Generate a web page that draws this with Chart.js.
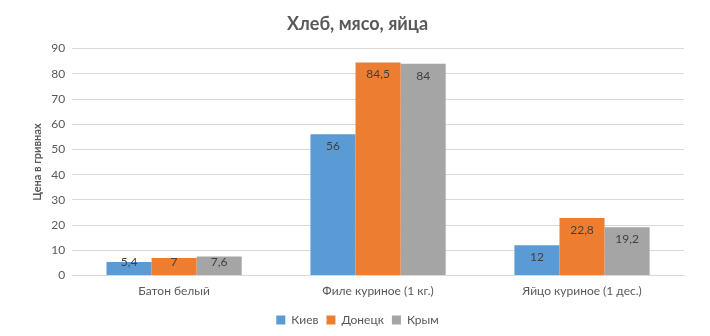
<!DOCTYPE html>
<html>
<head>
<meta charset="utf-8">
<script src="https://cdn.jsdelivr.net/npm/chart.js@4"></script>
<style>
  html, body { margin: 0; padding: 0; background: #fff; }
  #wrap { width: 710px; height: 336px; }
</style>
</head>
<body>
<div id="wrap"><canvas id="chart"></canvas></div>
<script>
var categories = ["Батон белый", "Филе куриное (1 кг.)", "Яйцо куриное (1 дес.)"];
var kiev = [5.4, 56, 12];
var donetsk = [7, 84.5, 22.8];
var crimea = [7.6, 84, 19.2];
var yTicks = [0, 10, 20, 30, 40, 50, 60, 70, 80, 90];

var FONT = "Lato, 'Open Sans', sans-serif";

// value labels just below the top of every bar (short bars keep them above the axis)
var barLabels = {
	id: 'barLabels',
	afterDatasetsDraw: function(chart) {
		var ctx = chart.ctx;
		ctx.save();
		ctx.font = "12px " + FONT;
		ctx.fillStyle = "#404040";
		ctx.textAlign = "center";
		ctx.textBaseline = "top";
		chart.data.datasets.forEach(function(ds, i) {
			chart.getDatasetMeta(i).data.forEach(function(bar, j) {
				var txt = String(ds.data[j]).replace('.', ',');
				var y = Math.min(bar.y + 6, bar.base - 19);
				ctx.fillText(txt, bar.x, y);
			});
		});
		ctx.restore();
	}
};

var canvas = document.getElementById('chart').getContext('2d');
new Chart(canvas, {
	type: 'bar',
	data: {
		labels: categories,
		datasets: [{
			label: 'Киев',
			data: kiev,
			backgroundColor: "#5B9BD5"
		}, {
			label: 'Донецк',
			data: donetsk,
			backgroundColor: "#ED7D31"
		}, {
			label: 'Крым',
			data: crimea,
			backgroundColor: "#A5A5A5"
		}]
	},
	options: {
		responsive: true,
		maintainAspectRatio: false,
		animation: false,
		layout: { padding: { left: 31, right: 26, top: 5, bottom: 0 } },
		datasets: {
			bar: { barPercentage: 1, categoryPercentage: 0.663 }
		},
		plugins: {
			title: {
				display: true,
				text: 'Хлеб, мясо, яйца',
				color: '#595959',
				font: { family: FONT, size: 18, weight: 'bold' },
				padding: { top: 8, bottom: 14 }
			},
			legend: {
				position: 'bottom',
				labels: {
					color: '#595959',
					font: { family: FONT, size: 12 },
					boxWidth: 9,
					boxHeight: 9,
					padding: 8
				}
			},
			tooltip: { enabled: false }
		},
		scales: {
			x: {
				grid: { display: false, drawTicks: false },
				border: { color: '#D9D9D9' },
				ticks: {
					color: '#595959',
					font: { family: FONT, size: 12 },
					padding: 8
				}
			},
			y: {
				min: 0,
				max: 90,
				afterBuildTicks: function(axis) {
					axis.ticks = yTicks.map(function(v) { return { value: v }; });
				},
				grid: { color: '#D9D9D9', drawTicks: false },
				border: { display: false },
				ticks: {
					color: '#595959',
					font: { family: FONT, size: 12 },
					padding: 7
				},
				title: {
					display: true,
					text: 'Цена в гривнах',
					color: '#595959',
					font: { family: FONT, size: 11, weight: 'bold' },
					padding: { top: 0, bottom: 0 }
				}
			}
		}
	},
	plugins: [barLabels]
});
</script>
</body>
</html>
